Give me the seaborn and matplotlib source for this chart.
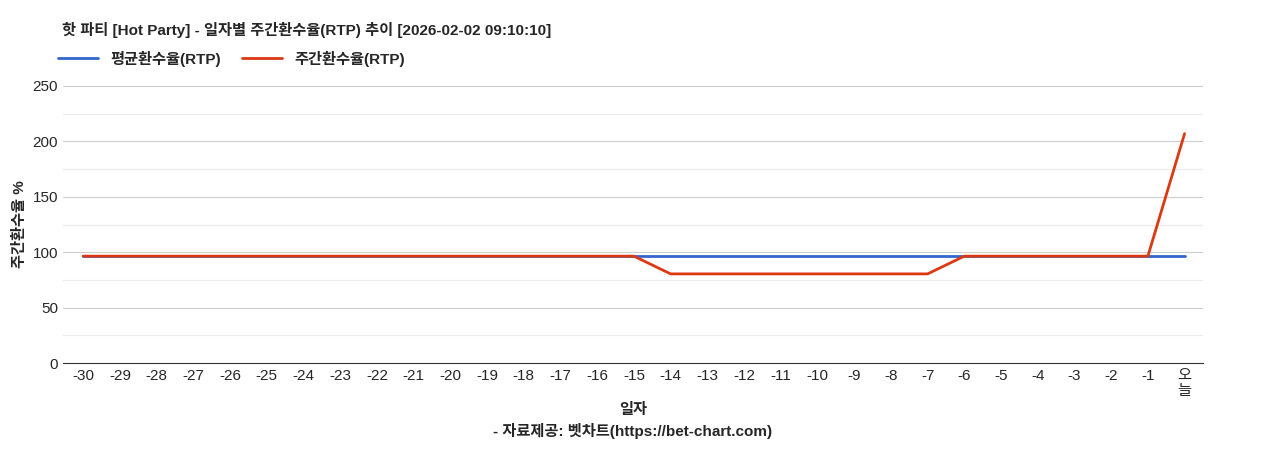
import matplotlib
matplotlib.use("Agg")
import matplotlib.pyplot as plt
import seaborn as sns
import pandas as pd

sns.set_style("white")
plt.rcParams['font.family'] = ['Liberation Sans', 'Noto Sans CJK KR', 'DejaVu Sans']

days = list(range(-30, 1))
tick_labels = [str(d) for d in range(-30, 0)] + ["오\n늘"]
avg_rtp = [96.5] * 31
weekly_rtp = [96.5] * 16 + [80.5] * 8 + [96.5] * 6 + [207]

df = pd.DataFrame({"day": days, "avg": avg_rtp, "weekly": weekly_rtp})

fig = plt.figure(figsize=(12.68, 4.5), dpi=100)
ax = fig.add_axes([0.0497, 0.193, 0.899, 0.616])

for y in range(25, 250, 50):
    ax.axhline(y, color="#ebebeb", lw=0.8, zorder=0)
for y in range(50, 251, 50):
    ax.axhline(y, color="#cccccc", lw=0.8, zorder=0)

sns.lineplot(data=df, x="day", y="avg", ax=ax, color="#3366cc", lw=2, label="평균환수율(RTP)")
sns.lineplot(data=df, x="day", y="weekly", ax=ax, color="#dc3912", lw=2, label="주간환수율(RTP)")

ax.set_xlim(-30.55, 0.5)
ax.set_ylim(0, 250)
ax.set_yticks(range(0, 251, 50))
ax.set_xticks(days)
ax.set_xticklabels(tick_labels, fontsize=11, linespacing=1.1)
ax.tick_params(axis='y', labelsize=11, length=0)
ax.tick_params(axis='x', length=0, pad=4)
for s in ["top", "right", "left"]:
    ax.spines[s].set_visible(False)
ax.spines["bottom"].set_color("#333333")
ax.set_ylabel("주간환수율 %", fontsize=11, fontweight="bold")
ax.set_xlabel("일자\n- 자료제공: 벳차트(https://bet-chart.com)", fontsize=11, fontweight="bold", linespacing=1.4)

fig.text(0.049, 0.933, "핫 파티 [Hot Party] - 일자별 주간환수율(RTP) 추이 [2026-02-02 09:10:10]",
         fontsize=11, fontweight="bold", va="center")
leg = ax.legend(loc="lower left", bbox_to_anchor=(-0.004, 1.07), ncol=2, frameon=False,
                prop={"weight": "bold", "size": 11}, handlelength=2.6, columnspacing=1.4,
                borderaxespad=0, borderpad=0)
fig.savefig("out.png", dpi=100)
